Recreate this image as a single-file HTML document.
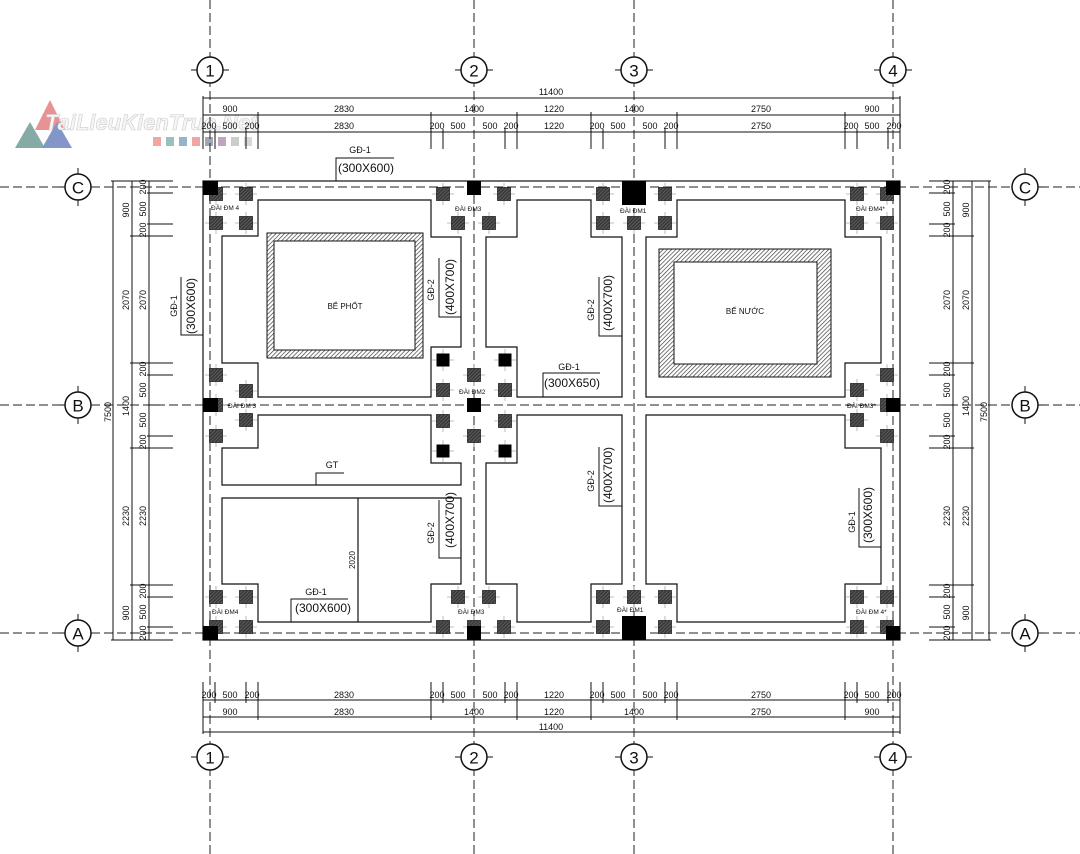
<!DOCTYPE html>
<html><head><meta charset="utf-8"><style>
html,body{margin:0;padding:0;background:#fff;}
svg{display:block;}
text{font-family:"Liberation Sans",sans-serif;fill:#111;}
.d{font-size:9px;text-anchor:middle;}
.s{font-size:6.5px;}
.b{font-size:12px;text-anchor:middle;}
.g{font-size:9px;text-anchor:middle;}
.c{font-size:17px;text-anchor:middle;dominant-baseline:central;}
</style></head><body>
<svg width="1080" height="854" viewBox="0 0 1080 854" xmlns="http://www.w3.org/2000/svg">
<defs>
<pattern id="h" width="3" height="3" patternUnits="userSpaceOnUse" patternTransform="rotate(45)">
<rect width="3" height="3" fill="#fff"/><line x1="0" y1="0" x2="0" y2="3" stroke="#333" stroke-width="1.3"/></pattern>
<pattern id="hp" width="2.5" height="2.5" patternUnits="userSpaceOnUse" patternTransform="rotate(45)">
<rect width="2.5" height="2.5" fill="#3a3a3a"/><line x1="0" y1="0" x2="0" y2="2.5" stroke="#888" stroke-width="0.8"/></pattern>
<g id="p"><line x1="-11" y1="0" x2="11" y2="0" stroke="#aaa" stroke-width="0.8"/><line x1="0" y1="-11" x2="0" y2="11" stroke="#aaa" stroke-width="0.8"/><rect x="-6.5" y="-6.5" width="13" height="13" fill="url(#hp)" stroke="#222" stroke-width="0.8"/></g>
<g id="k"><line x1="-11" y1="0" x2="11" y2="0" stroke="#aaa" stroke-width="0.8"/><line x1="0" y1="-11" x2="0" y2="11" stroke="#aaa" stroke-width="0.8"/><rect x="-6.5" y="-6.5" width="13" height="13" fill="#000"/></g>
</defs>

<!-- watermark -->
<g opacity="0.75">
<polygon points="50,100 35,130 65,130" fill="#e07070"/>
<polygon points="30,122 15,148 45,148" fill="#5e8f86"/>
<polygon points="57,122 42,148 72,148" fill="#5a72b8"/>
<text x="45" y="130" style="font-size:22px;font-style:italic;font-weight:bold;fill:#f4f4f4;stroke:#bbb;stroke-width:0.6">TaiLieuKienTruc.Net</text>
<rect x="153" y="137" width="8" height="9" fill="#e88"/><rect x="166" y="137" width="8" height="9" fill="#7aa"/><rect x="179" y="137" width="8" height="9" fill="#79b"/><rect x="192" y="137" width="8" height="9" fill="#e88"/><rect x="205" y="137" width="8" height="9" fill="#889"/><rect x="218" y="137" width="8" height="9" fill="#a8a"/><rect x="231" y="137" width="8" height="9" fill="#bbb"/><rect x="244" y="137" width="8" height="9" fill="#ccc"/>
</g>

<!-- grid dashed -->
<g stroke="#222" stroke-width="1" stroke-dasharray="9,4" fill="none">
<line x1="210" y1="0" x2="210" y2="854"/><line x1="474" y1="0" x2="474" y2="854"/><line x1="634" y1="0" x2="634" y2="854"/><line x1="893" y1="0" x2="893" y2="854"/>
<line x1="0" y1="187" x2="1080" y2="187"/><line x1="0" y1="405" x2="1080" y2="405"/><line x1="0" y1="633" x2="1080" y2="633"/>
</g>

<!-- outer boundary and panels -->
<g stroke="#111" stroke-width="1.2" fill="none">
<rect x="203" y="181" width="697" height="459"/>
<polygon points="258,200 431,200 431,237 461,237 461,347 431,347 431,397 258,397 258,363 222,363 222,236 258,236"/>
<polygon points="486,237 517,237 517,200 591,200 591,237 622,237 622,397 517,397 517,347 486,347"/>
<polygon points="646,237 677,237 677,200 845,200 845,237 881,237 881,363 845,363 845,397 646,397"/>
<polygon points="258,415 431,415 431,463 461,463 461,485 222,485 222,448 258,448"/>
<polygon points="222,498 461,498 461,584 431,584 431,622 258,622 258,584 222,584"/>
<polygon points="517,415 622,415 622,584 591,584 591,622 517,622 517,584 486,584 486,463 517,463"/>
<polygon points="646,415 845,415 845,448 881,448 881,584 845,584 845,622 677,622 677,584 646,584"/>
<line x1="358" y1="498" x2="358" y2="622"/>
</g>

<!-- tanks -->
<path d="M267,233H423V358H267Z M274,241V350H415V241Z" fill="url(#h)" fill-rule="evenodd" stroke="#111" stroke-width="1"/>
<path d="M659,249H831V377H659Z M674,262V364H817V262Z" fill="url(#h)" fill-rule="evenodd" stroke="#111" stroke-width="1"/>
<text x="345" y="309" class="d" style="font-size:8px">BỂ PHỐT</text>
<text x="745" y="314" class="d" style="font-size:8px">BỂ NƯỚC</text>

<!-- piles -->
<g>
<use href="#p" x="216" y="194"/><use href="#p" x="246" y="194"/><use href="#p" x="216" y="223"/><use href="#p" x="246" y="223"/>
<use href="#p" x="443" y="194"/><use href="#p" x="504" y="194"/><use href="#p" x="458" y="223"/><use href="#p" x="489" y="223"/>
<use href="#p" x="603" y="194"/><use href="#p" x="665" y="194"/><use href="#p" x="603" y="223"/><use href="#p" x="634" y="223"/><use href="#p" x="665" y="223"/>
<use href="#p" x="857" y="194"/><use href="#p" x="887" y="194"/><use href="#p" x="857" y="223"/><use href="#p" x="887" y="223"/>
<use href="#p" x="216" y="375"/><use href="#p" x="246" y="391"/><use href="#p" x="216" y="405"/><use href="#p" x="246" y="420"/><use href="#p" x="216" y="436"/>
<use href="#p" x="474" y="375"/><use href="#p" x="443" y="390"/><use href="#p" x="505" y="390"/><use href="#p" x="443" y="421"/><use href="#p" x="505" y="421"/><use href="#p" x="474" y="436"/>
<use href="#k" x="443" y="360"/><use href="#k" x="505" y="360"/><use href="#k" x="443" y="451"/><use href="#k" x="505" y="451"/>
<use href="#p" x="887" y="375"/><use href="#p" x="857" y="390"/><use href="#p" x="887" y="405"/><use href="#p" x="857" y="420"/><use href="#p" x="887" y="436"/>
<use href="#p" x="216" y="597"/><use href="#p" x="246" y="597"/><use href="#p" x="216" y="627"/><use href="#p" x="246" y="627"/>
<use href="#p" x="458" y="597"/><use href="#p" x="489" y="597"/><use href="#p" x="443" y="627"/><use href="#p" x="474" y="627"/><use href="#p" x="504" y="627"/>
<use href="#p" x="603" y="597"/><use href="#p" x="634" y="597"/><use href="#p" x="665" y="597"/><use href="#p" x="603" y="627"/><use href="#p" x="665" y="627"/>
<use href="#p" x="857" y="597"/><use href="#p" x="887" y="597"/><use href="#p" x="857" y="627"/><use href="#p" x="887" y="627"/>
</g>
<!-- columns -->
<g fill="#000">
<rect x="203" y="181" width="15" height="14"/><rect x="467" y="181" width="14" height="14"/><rect x="622" y="181" width="24" height="24"/><rect x="886" y="181" width="14" height="14"/>
<rect x="203" y="398" width="15" height="14"/><rect x="467" y="398" width="14" height="14"/><rect x="886" y="398" width="14" height="14"/>
<rect x="203" y="626" width="15" height="14"/><rect x="467" y="626" width="14" height="14"/><rect x="622" y="616" width="24" height="24"/><rect x="886" y="626" width="14" height="14"/>
</g>

<!-- pile cap labels -->
<g class="s">
<text x="211" y="210">ĐÀI ĐM 4</text><text x="455" y="211">ĐÀI ĐM3</text><text x="620" y="213">ĐÀI ĐM1</text><text x="856" y="211">ĐÀI ĐM4*</text>
<text x="228" y="408">ĐÀI ĐM 3</text><text x="459" y="394">ĐÀI ĐM2</text><text x="847" y="408">ĐÀI ĐM3*</text>
<text x="212" y="614">ĐÀI ĐM4</text><text x="458" y="614">ĐÀI ĐM3</text><text x="617" y="612">ĐÀI ĐM1</text><text x="856" y="614">ĐÀI ĐM 4*</text>
</g>

<!-- beam labels -->
<g stroke="#111" stroke-width="1" fill="none">
<polyline points="394,158 336,158 336,181"/>
<polyline points="181,277 181,335 203,335"/>
<polyline points="439,258 439,317 461,317"/>
<polyline points="599,277 599,336 622,336"/>
<polyline points="600,373 543,373 543,397"/>
<polyline points="344,473 316,473 316,485"/>
<polyline points="439,500 439,558 461,558"/>
<polyline points="348,599 291,599 291,622"/>
<polyline points="599,447 599,506 622,506"/>
<polyline points="859,488 859,547 881,547"/>
</g>
<text x="360" y="153" class="g">GĐ-1</text><text x="366" y="172" class="b">(300X600)</text>
<text class="g" transform="translate(177,306) rotate(-90)">GĐ-1</text><text class="b" transform="translate(195,306) rotate(-90)">(300X600)</text>
<text class="g" transform="translate(434,290) rotate(-90)">GĐ-2</text><text class="b" transform="translate(454,287) rotate(-90)">(400X700)</text>
<text class="g" transform="translate(594,310) rotate(-90)">GĐ-2</text><text class="b" transform="translate(612,303) rotate(-90)">(400X700)</text>
<text x="569" y="370" class="g">GĐ-1</text><text x="572" y="387" class="b">(300X650)</text>
<text x="332" y="468" class="g">GT</text>
<text class="g" transform="translate(434,533) rotate(-90)">GĐ-2</text><text class="b" transform="translate(454,520) rotate(-90)">(400X700)</text>
<text class="d" style="font-size:8px" transform="translate(355,560) rotate(-90)">2020</text>
<text x="316" y="595" class="g">GĐ-1</text><text x="323" y="612" class="b">(300X600)</text>
<text class="g" transform="translate(594,481) rotate(-90)">GĐ-2</text><text class="b" transform="translate(612,475) rotate(-90)">(400X700)</text>
<text class="g" transform="translate(855,522) rotate(-90)">GĐ-1</text><text class="b" transform="translate(872,515) rotate(-90)">(300X600)</text>

<!-- top dims -->
<g stroke="#111" stroke-width="1">
<line x1="203" y1="98" x2="900" y2="98"/><line x1="203" y1="115" x2="900" y2="115"/><line x1="203" y1="132" x2="900" y2="132"/>
<line x1="203" y1="96" x2="203" y2="149"/><line x1="900" y1="96" x2="900" y2="149"/>
<line x1="258" y1="112" x2="258" y2="149"/><line x1="431" y1="112" x2="431" y2="149"/><line x1="517" y1="112" x2="517" y2="149"/><line x1="591" y1="112" x2="591" y2="149"/><line x1="677" y1="112" x2="677" y2="149"/><line x1="845" y1="112" x2="845" y2="149"/>
<line x1="215" y1="129" x2="215" y2="149"/><line x1="246" y1="129" x2="246" y2="149"/><line x1="443" y1="129" x2="443" y2="149"/><line x1="505" y1="129" x2="505" y2="149"/><line x1="603" y1="129" x2="603" y2="149"/><line x1="665" y1="129" x2="665" y2="149"/><line x1="857" y1="129" x2="857" y2="149"/><line x1="888" y1="129" x2="888" y2="149"/>
</g>
<text x="551" y="95" class="d">11400</text>
<g class="d"><text x="230" y="112">900</text><text x="344" y="112">2830</text><text x="474" y="112">1400</text><text x="554" y="112">1220</text><text x="634" y="112">1400</text><text x="761" y="112">2750</text><text x="872" y="112">900</text></g>
<g class="d"><text x="209" y="129">200</text><text x="230" y="129">500</text><text x="252" y="129">200</text><text x="344" y="129">2830</text><text x="437" y="129">200</text><text x="458" y="129">500</text><text x="490" y="129">500</text><text x="511" y="129">200</text><text x="554" y="129">1220</text><text x="597" y="129">200</text><text x="618" y="129">500</text><text x="650" y="129">500</text><text x="671" y="129">200</text><text x="761" y="129">2750</text><text x="851" y="129">200</text><text x="872" y="129">500</text><text x="894" y="129">200</text></g>

<!-- bottom dims -->
<g stroke="#111" stroke-width="1">
<line x1="203" y1="700" x2="900" y2="700"/><line x1="203" y1="717" x2="900" y2="717"/><line x1="203" y1="732" x2="900" y2="732"/>
<line x1="203" y1="682" x2="203" y2="734"/><line x1="900" y1="682" x2="900" y2="734"/>
<line x1="258" y1="682" x2="258" y2="720"/><line x1="431" y1="682" x2="431" y2="720"/><line x1="517" y1="682" x2="517" y2="720"/><line x1="591" y1="682" x2="591" y2="720"/><line x1="677" y1="682" x2="677" y2="720"/><line x1="845" y1="682" x2="845" y2="720"/>
<line x1="215" y1="682" x2="215" y2="703"/><line x1="246" y1="682" x2="246" y2="703"/><line x1="443" y1="682" x2="443" y2="703"/><line x1="505" y1="682" x2="505" y2="703"/><line x1="603" y1="682" x2="603" y2="703"/><line x1="665" y1="682" x2="665" y2="703"/><line x1="857" y1="682" x2="857" y2="703"/><line x1="888" y1="682" x2="888" y2="703"/>
</g>
<g class="d"><text x="209" y="698">200</text><text x="230" y="698">500</text><text x="252" y="698">200</text><text x="344" y="698">2830</text><text x="437" y="698">200</text><text x="458" y="698">500</text><text x="490" y="698">500</text><text x="511" y="698">200</text><text x="554" y="698">1220</text><text x="597" y="698">200</text><text x="618" y="698">500</text><text x="650" y="698">500</text><text x="671" y="698">200</text><text x="761" y="698">2750</text><text x="851" y="698">200</text><text x="872" y="698">500</text><text x="894" y="698">200</text></g>
<g class="d"><text x="230" y="715">900</text><text x="344" y="715">2830</text><text x="474" y="715">1400</text><text x="554" y="715">1220</text><text x="634" y="715">1400</text><text x="761" y="715">2750</text><text x="872" y="715">900</text></g>
<text x="551" y="730" class="d">11400</text>

<!-- left dims -->
<g stroke="#111" stroke-width="1">
<line x1="113" y1="181" x2="113" y2="640"/><line x1="132" y1="181" x2="132" y2="640"/><line x1="149" y1="181" x2="149" y2="640"/>
<line x1="111" y1="181" x2="173" y2="181"/><line x1="111" y1="640" x2="173" y2="640"/>
<line x1="130" y1="236" x2="173" y2="236"/><line x1="130" y1="363" x2="173" y2="363"/><line x1="130" y1="448" x2="173" y2="448"/><line x1="130" y1="585" x2="173" y2="585"/>
<line x1="147" y1="193" x2="173" y2="193"/><line x1="147" y1="224" x2="173" y2="224"/><line x1="147" y1="375" x2="173" y2="375"/><line x1="147" y1="405" x2="160" y2="405"/><line x1="147" y1="436" x2="173" y2="436"/><line x1="147" y1="597" x2="173" y2="597"/><line x1="147" y1="627" x2="173" y2="627"/>
</g>
<g class="d">
<text transform="translate(111,412) rotate(-90)">7500</text>
<text transform="translate(129,210) rotate(-90)">900</text><text transform="translate(129,300) rotate(-90)">2070</text><text transform="translate(129,406) rotate(-90)">1400</text><text transform="translate(129,516) rotate(-90)">2230</text><text transform="translate(129,613) rotate(-90)">900</text>
<text transform="translate(146,187) rotate(-90)">200</text><text transform="translate(146,209) rotate(-90)">500</text><text transform="translate(146,230) rotate(-90)">200</text><text transform="translate(146,300) rotate(-90)">2070</text><text transform="translate(146,369) rotate(-90)">200</text><text transform="translate(146,390) rotate(-90)">500</text><text transform="translate(146,420) rotate(-90)">500</text><text transform="translate(146,442) rotate(-90)">200</text><text transform="translate(146,516) rotate(-90)">2230</text><text transform="translate(146,591) rotate(-90)">200</text><text transform="translate(146,612) rotate(-90)">500</text><text transform="translate(146,633) rotate(-90)">200</text>
</g>

<!-- right dims -->
<g stroke="#111" stroke-width="1">
<line x1="953" y1="181" x2="953" y2="640"/><line x1="972" y1="181" x2="972" y2="640"/><line x1="989" y1="181" x2="989" y2="640"/>
<line x1="929" y1="181" x2="991" y2="181"/><line x1="929" y1="640" x2="991" y2="640"/>
<line x1="929" y1="236" x2="974" y2="236"/><line x1="929" y1="363" x2="974" y2="363"/><line x1="929" y1="448" x2="974" y2="448"/><line x1="929" y1="585" x2="974" y2="585"/>
<line x1="929" y1="193" x2="955" y2="193"/><line x1="929" y1="224" x2="955" y2="224"/><line x1="929" y1="375" x2="955" y2="375"/><line x1="942" y1="405" x2="955" y2="405"/><line x1="929" y1="436" x2="955" y2="436"/><line x1="929" y1="597" x2="955" y2="597"/><line x1="929" y1="627" x2="955" y2="627"/>
</g>
<g class="d">
<text transform="translate(987,412) rotate(-90)">7500</text>
<text transform="translate(969,210) rotate(-90)">900</text><text transform="translate(969,300) rotate(-90)">2070</text><text transform="translate(969,406) rotate(-90)">1400</text><text transform="translate(969,516) rotate(-90)">2230</text><text transform="translate(969,613) rotate(-90)">900</text>
<text transform="translate(950,187) rotate(-90)">200</text><text transform="translate(950,209) rotate(-90)">500</text><text transform="translate(950,230) rotate(-90)">200</text><text transform="translate(950,300) rotate(-90)">2070</text><text transform="translate(950,369) rotate(-90)">200</text><text transform="translate(950,390) rotate(-90)">500</text><text transform="translate(950,420) rotate(-90)">500</text><text transform="translate(950,442) rotate(-90)">200</text><text transform="translate(950,516) rotate(-90)">2230</text><text transform="translate(950,591) rotate(-90)">200</text><text transform="translate(950,612) rotate(-90)">500</text><text transform="translate(950,633) rotate(-90)">200</text>
</g>

<!-- grid bubbles -->
<g stroke="#111" stroke-width="1.5" fill="#fff">
<circle cx="210" cy="70" r="13"/><circle cx="474" cy="70" r="13"/><circle cx="634" cy="70" r="13"/><circle cx="893" cy="70" r="13"/>
<circle cx="210" cy="757" r="13"/><circle cx="474" cy="757" r="13"/><circle cx="634" cy="757" r="13"/><circle cx="893" cy="757" r="13"/>
<circle cx="78" cy="187" r="13"/><circle cx="78" cy="405" r="13"/><circle cx="78" cy="633" r="13"/>
<circle cx="1025" cy="187" r="13"/><circle cx="1025" cy="405" r="13"/><circle cx="1025" cy="633" r="13"/>
</g>
<g stroke="#111" stroke-width="1">
<path d="M191,70h6M223,70h6M455,70h6M487,70h6M615,70h6M647,70h6M874,70h6M906,70h6"/>
<path d="M191,757h6M223,757h6M455,757h6M487,757h6M615,757h6M647,757h6M874,757h6M906,757h6"/>
<path d="M78,168v6M78,200v6M78,386v6M78,418v6M78,614v6M78,646v6M1025,168v6M1025,200v6M1025,386v6M1025,418v6M1025,614v6M1025,646v6"/>
<path d="M59,187h6M59,405h6M59,633h6M1038,187h6M1038,405h6M1038,633h6"/>
</g>
<g class="c">
<text x="210" y="71">1</text><text x="474" y="71">2</text><text x="634" y="71">3</text><text x="893" y="71">4</text>
<text x="210" y="758">1</text><text x="474" y="758">2</text><text x="634" y="758">3</text><text x="893" y="758">4</text>
<text x="78" y="188">C</text><text x="78" y="406">B</text><text x="78" y="634">A</text>
<text x="1025" y="188">C</text><text x="1025" y="406">B</text><text x="1025" y="634">A</text>
</g>
</svg>
</body></html>
